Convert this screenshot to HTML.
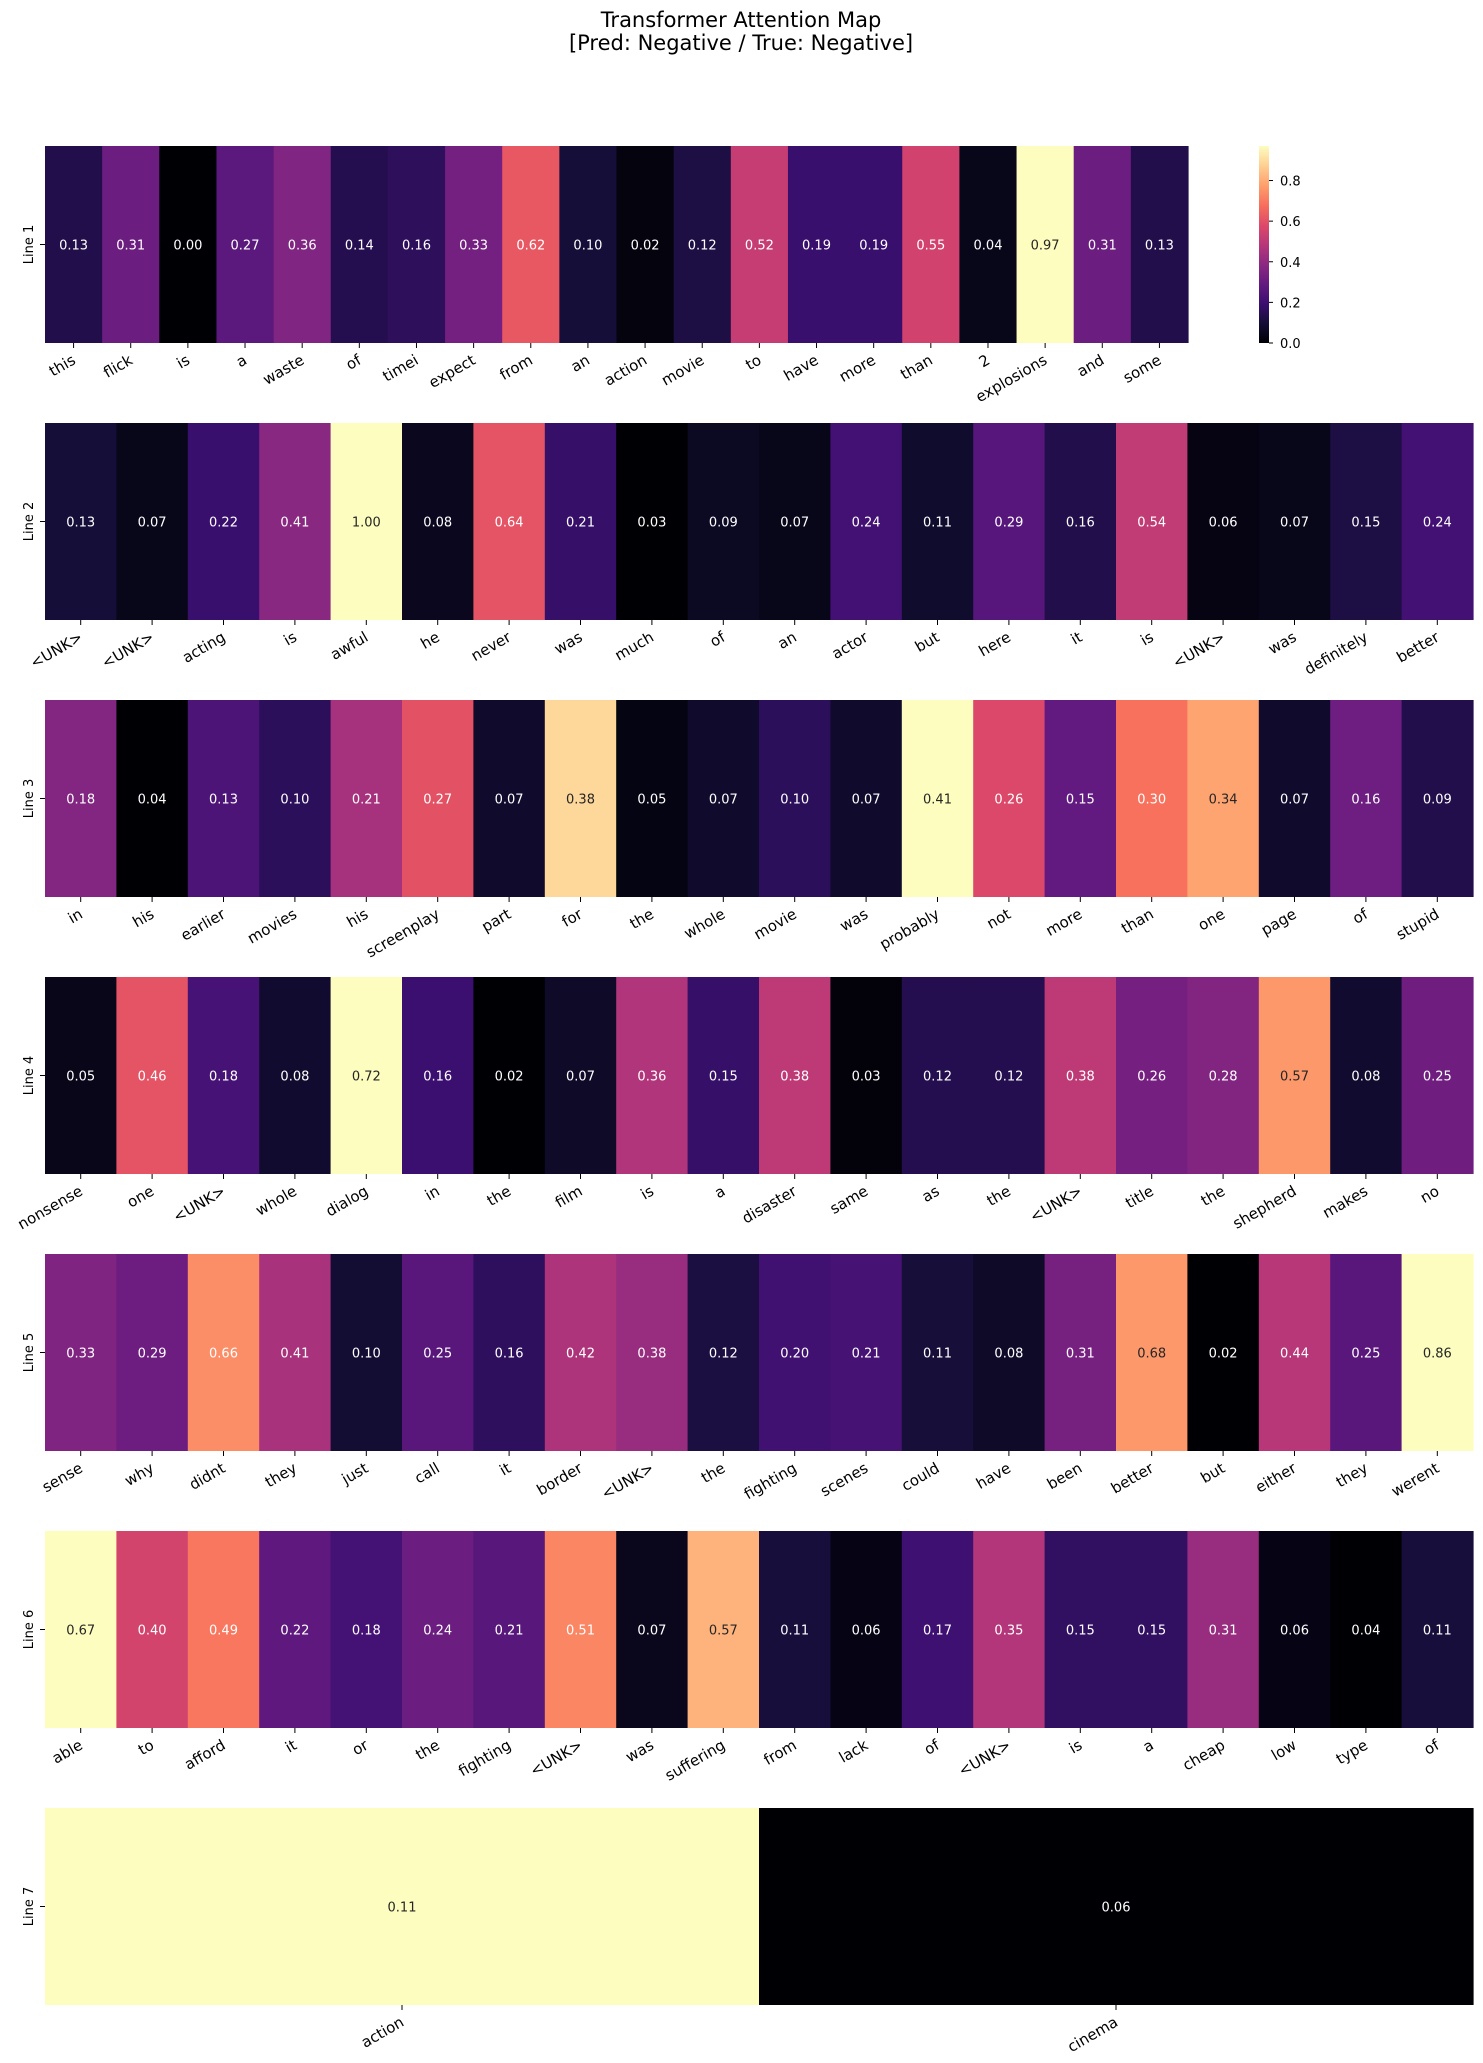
<!DOCTYPE html>
<html><head><meta charset="utf-8"><style>
html,body{margin:0;padding:0;background:#fff;}
svg{display:block;font-family:"DejaVu Sans","Liberation Sans",sans-serif;}
</style></head><body>
<svg id="s" width="1483" height="2063" xmlns="http://www.w3.org/2000/svg">
<text x="741" y="27" text-anchor="middle" font-size="21" fill="#000">Transformer Attention Map</text>
<text x="741" y="50" text-anchor="middle" font-size="21" fill="#000">[Pred: Negative / True: Negative]</text>
<defs><linearGradient id="cb" x1="0" y1="1" x2="0" y2="0">
<stop offset="0" stop-color="#000004"/><stop offset="0.1" stop-color="#140e36"/><stop offset="0.2" stop-color="#3b0f70"/><stop offset="0.3" stop-color="#641a80"/><stop offset="0.4" stop-color="#8c2981"/><stop offset="0.5" stop-color="#b73779"/><stop offset="0.6" stop-color="#de4968"/><stop offset="0.7" stop-color="#f7705c"/><stop offset="0.8" stop-color="#fe9f6d"/><stop offset="0.9" stop-color="#fecf92"/><stop offset="1" stop-color="#fcfdbf"/>
</linearGradient></defs>
</svg>
<script>
const rows=[
["this flick is a waste of timei expect from an action movie to have more than 2 explosions and some",[.13,.31,0,.27,.36,.14,.16,.33,.62,.10,.02,.12,.52,.19,.19,.55,.04,.97,.31,.13]],
["<UNK> <UNK> acting is awful he never was much of an actor but here it is <UNK> was definitely better",[.13,.07,.22,.41,1.00,.08,.64,.21,.03,.09,.07,.24,.11,.29,.16,.54,.06,.07,.15,.24]],
["in his earlier movies his screenplay part for the whole movie was probably not more than one page of stupid",[.18,.04,.13,.10,.21,.27,.07,.38,.05,.07,.10,.07,.41,.26,.15,.30,.34,.07,.16,.09]],
["nonsense one <UNK> whole dialog in the film is a disaster same as the <UNK> title the shepherd makes no",[.05,.46,.18,.08,.72,.16,.02,.07,.36,.15,.38,.03,.12,.12,.38,.26,.28,.57,.08,.25]],
["sense why didnt they just call it border <UNK> the fighting scenes could have been better but either they werent",[.33,.29,.66,.41,.10,.25,.16,.42,.38,.12,.20,.21,.11,.08,.31,.68,.02,.44,.25,.86]],
["able to afford it or the fighting <UNK> was suffering from lack of <UNK> is a cheap low type of",[.67,.40,.49,.22,.18,.24,.21,.51,.07,.57,.11,.06,.17,.35,.15,.15,.31,.06,.04,.11]],
["action cinema",[.11,.06]]];
const M=["000004","140e36","3b0f70","641a80","8c2981","b73779","de4968","f7705c","fe9f6d","fecf92","fcfdbf"].map(h=>[0,2,4].map(i=>parseInt(h.substr(i,2),16)));
function cmap(t){t=Math.max(0,Math.min(1,t))*10;let i=Math.min(9,Math.floor(t)),f=t-i;return M[i].map((c,k)=>c+(M[i+1][k]-c)*f);}
function lum(c){const l=c.map(v=>{v/=255;return v<=0.03928?v/12.92:Math.pow((v+0.055)/1.055,2.4)});return .2126*l[0]+.7152*l[1]+.0722*l[2];}
const s=document.getElementById('s');let h='';
const esc=t=>t.replace(/&/g,'&amp;').replace(/</g,'&lt;').replace(/>/g,'&gt;');
rows.forEach((r,ri)=>{
 const words=r[0].split(' '),v=r[1];const top=146+277*ri,H=197,L=45;
 const R=ri==0?1188:1473;const w=(R-L)/v.length;
 const mn=ri==0?0:Math.min(...v),mx=Math.max(...v);
 v.forEach((x,i)=>{const c=cmap((x-mn)/(mx-mn));const col=`rgb(${c.map(Math.round).join(',')})`;
  const x0=L+i*w;h+=`<rect x="${x0.toFixed(2)}" y="${top}" width="${(w+0.6).toFixed(2)}" height="${H}" fill="${col}"/>`;
  h+=`<text x="${(x0+w/2).toFixed(1)}" y="${top+H/2+5}" text-anchor="middle" font-size="13" fill="${lum(c)>0.408?'#262626':'#fff'}">${x.toFixed(2)}</text>`;
  const tx=x0+w/2;h+=`<line x1="${tx}" y1="${top+H}" x2="${tx}" y2="${top+H+5}" stroke="#000" stroke-width="1"/>`;
  h+=`<text transform="translate(${(tx+3).toFixed(1)},${top+H+20}) rotate(-30)" text-anchor="end" font-size="15" fill="#000">${esc(words[i])}</text>`;
 });
 h+=`<line x1="${L-5}" y1="${top+H/2}" x2="${L}" y2="${top+H/2}" stroke="#000"/>`;
 h+=`<text transform="translate(${L-12},${top+H/2}) rotate(-90)" text-anchor="middle" font-size="13" fill="#000">Line ${ri+1}</text>`;
});
const cbT=146,cbB=343,cbH=cbB-cbT;
h+=`<rect x="1259" y="${cbT}" width="10" height="${cbH}" fill="url(#cb)"/>`;
[0,.2,.4,.6,.8].forEach(t=>{const y=cbB-t/0.97*cbH;h+=`<line x1="1269" y1="${y}" x2="1273" y2="${y}" stroke="#000"/><text x="1280" y="${y+5}" font-size="13" fill="#000">${t.toFixed(1)}</text>`;});
s.insertAdjacentHTML('beforeend',h);
</script>
</body></html>
